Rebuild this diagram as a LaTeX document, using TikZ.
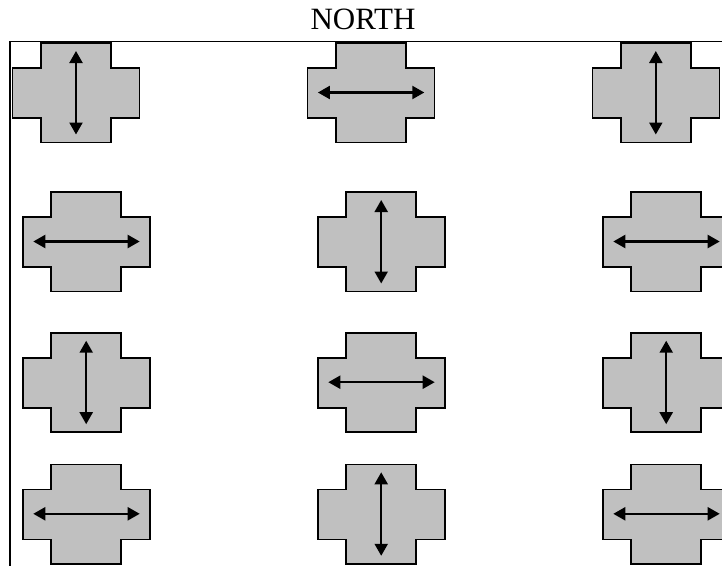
\documentclass[tikz,border=0pt]{standalone}
\usepackage{fontspec}
\setmainfont{Liberation Serif}
\usetikzlibrary{arrows.meta}
\definecolor{crossgray}{RGB}{192,192,192}
\tikzset{
  crossshape/.style={draw=black, fill=crossgray, line width=1.6pt, line join=miter},
  dirarrow/.style={line width=2.2pt, {Triangle[length=12pt,width=13pt]}-{Triangle[length=12pt,width=13pt]}},
  framerule/.style={line width=1.8pt},
  northlabel/.style={font=\fontsize{31}{36}\selectfont, anchor=base, inner sep=0pt}
}
% #1 = left, #2 = top, #3 = V or H
\newcommand{\drawcrossshape}[3]{%
  \draw[crossshape] (#1+28.5,#2) -- (#1+98.5,#2) -- (#1+98.5,#2+25) -- (#1+127,#2+25)
    -- (#1+127,#2+75) -- (#1+98.5,#2+75) -- (#1+98.5,#2+99.5) -- (#1+28.5,#2+99.5)
    -- (#1+28.5,#2+75) -- (#1,#2+75) -- (#1,#2+25) -- (#1+28.5,#2+25) -- cycle;
  \ifx#3V
    \draw[dirarrow] (#1+63.5,#2+8) -- (#1+63.5,#2+91.5);
  \else
    \draw[dirarrow] (#1+10.6,#2+49.5) -- (#1+117,#2+49.5);
  \fi
}
\begin{document}
\begin{tikzpicture}[x=1pt,y=-1pt]
\useasboundingbox (0,0) rectangle (722,565);
\clip (0,0) rectangle (722,565);
\node[northlabel] (north) at (363,29.3) {NORTH};
\coordinate (ftr) at (723,41.5);
\coordinate (ftl) at (10.3,41.5);
\coordinate (fbl) at (10.3,566);
\draw[framerule] (ftr) -- (ftl) -- (fbl);
% row 1
\drawcrossshape{12.5}{43}{V}
\drawcrossshape{307.3}{43}{H}
\drawcrossshape{592.3}{43}{V}
% row 2
\drawcrossshape{22.7}{192}{H}
\drawcrossshape{317.7}{192}{V}
\drawcrossshape{602.7}{192}{H}
% row 3
\drawcrossshape{22.7}{332.7}{V}
\drawcrossshape{317.7}{332.7}{H}
\drawcrossshape{602.7}{332.7}{V}
% row 4
\drawcrossshape{22.7}{464.3}{H}
\drawcrossshape{317.7}{464.3}{V}
\drawcrossshape{602.7}{464.3}{H}
\end{tikzpicture}
\end{document}
